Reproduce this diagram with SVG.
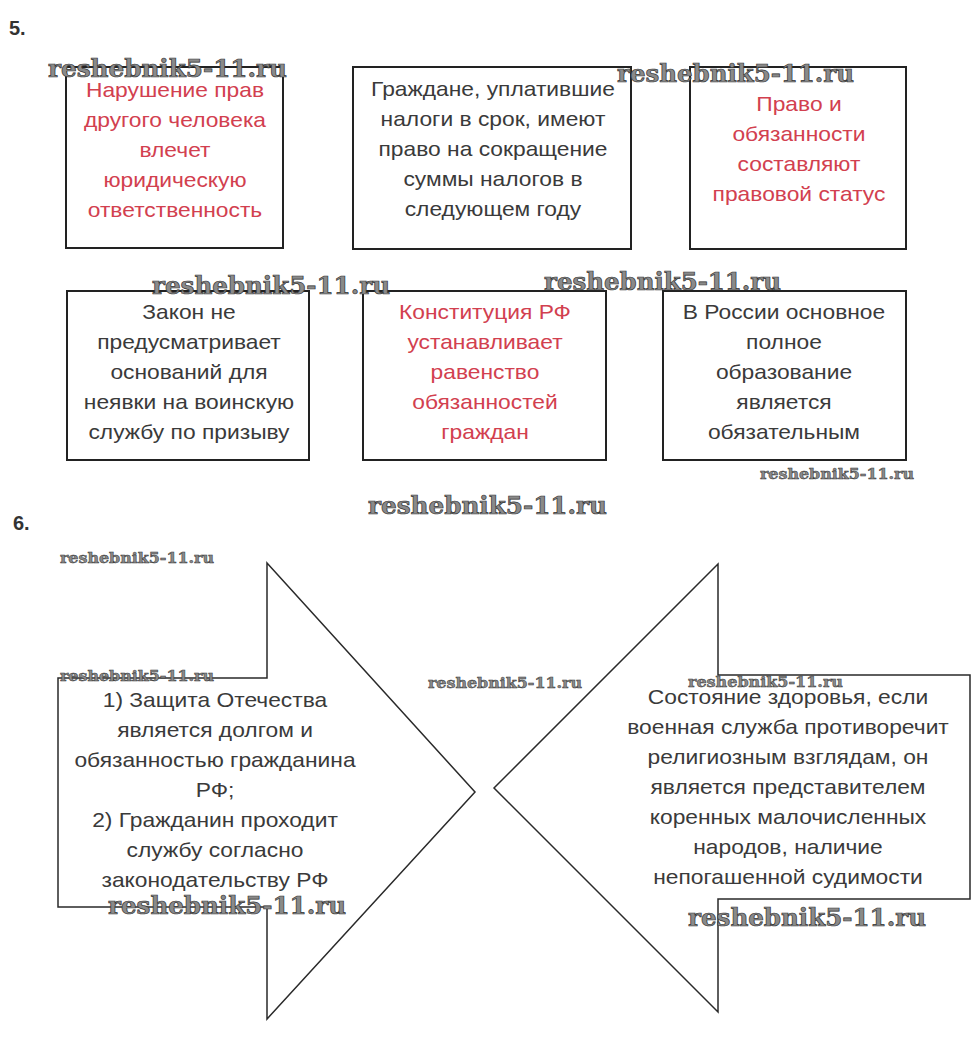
<svg xmlns="http://www.w3.org/2000/svg" width="980" height="1053" viewBox="0 0 980 1053">
<style>
.bg{fill:#ffffff}
.box{fill:#ffffff;stroke:#222222;stroke-width:2}
.arrow{fill:#ffffff;stroke:#2a2a2a;stroke-width:1.5;stroke-linejoin:miter}
.t{font-family:"Liberation Sans",Arial,sans-serif;font-size:20px;text-anchor:middle;fill:#3a3a3a}
.r{fill:#d2404f}
.num{font-family:"Liberation Sans",Arial,sans-serif;font-size:20px;font-weight:bold;fill:#333333}
.wm{font-family:"DejaVu Serif",serif;font-weight:bold;fill:#8a8a8a;stroke:#333333;stroke-width:0.7}
.wmL{font-size:24px}
.wmS{font-size:15.5px;stroke-width:0.5}
</style>
<rect class="bg" x="0" y="0" width="980" height="1053"/>
<text class="num" x="9" y="35">5.</text>
<text class="num" x="13" y="530">6.</text>

<g id="box1">
<rect class="box" x="66" y="67" width="217" height="181"/>
<g transform="matrix(1.14,0,0,1,-24.5,0)"><text class="t r" x="175"><tspan x="175" y="97">Нарушение прав</tspan><tspan x="175" y="127">другого человека</tspan><tspan x="175" y="157">влечет</tspan><tspan x="175" y="187">юридическую</tspan><tspan x="175" y="217">ответственность</tspan></text></g>
</g>
<g id="box2">
<rect class="box" x="353" y="67" width="278" height="182"/>
<g transform="matrix(1.14,0,0,1,-69.02,0)"><text class="t" x="493"><tspan x="493" y="96">Граждане, уплатившие</tspan><tspan x="493" y="126">налоги в срок, имеют</tspan><tspan x="493" y="156">право на сокращение</tspan><tspan x="493" y="186">суммы налогов в</tspan><tspan x="493" y="216">следующем году</tspan></text></g>
</g>
<g id="box3">
<rect class="box" x="690" y="67" width="216" height="182"/>
<g transform="matrix(1.14,0,0,1,-111.86,0)"><text class="t r" x="799"><tspan x="799" y="111">Право и</tspan><tspan x="799" y="141">обязанности</tspan><tspan x="799" y="171">составляют</tspan><tspan x="799" y="201">правовой статус</tspan></text></g>
</g>
<g id="box4">
<rect class="box" x="67" y="291" width="242" height="169"/>
<g transform="matrix(1.14,0,0,1,-26.46,0)"><text class="t" x="189"><tspan x="189" y="319">Закон не</tspan><tspan x="189" y="349">предусматривает</tspan><tspan x="189" y="379">оснований для</tspan><tspan x="189" y="409">неявки на воинскую</tspan><tspan x="189" y="439">службу по призыву</tspan></text></g>
</g>
<g id="box5">
<rect class="box" x="363" y="291" width="243" height="169"/>
<g transform="matrix(1.14,0,0,1,-67.9,0)"><text class="t r" x="485"><tspan x="485" y="319">Конституция РФ</tspan><tspan x="485" y="349">устанавливает</tspan><tspan x="485" y="379">равенство</tspan><tspan x="485" y="409">обязанностей</tspan><tspan x="485" y="439">граждан</tspan></text></g>
</g>
<g id="box6">
<rect class="box" x="663" y="291" width="243" height="169"/>
<g transform="matrix(1.14,0,0,1,-109.76,0)"><text class="t" x="784"><tspan x="784" y="319">В России основное</tspan><tspan x="784" y="349">полное</tspan><tspan x="784" y="379">образование</tspan><tspan x="784" y="409">является</tspan><tspan x="784" y="439">обязательным</tspan></text></g>
</g>

<g id="connectors"></g>

<g id="arrowLeft">
<polygon class="arrow" points="267,563 475,792 267,1019 267,907 58,907 58,678 267,678"/>
<g transform="matrix(1.14,0,0,1,-30.1,0)"><text class="t" x="215"><tspan x="215" y="707">1) Защита Отечества</tspan><tspan x="215" y="737">является долгом и</tspan><tspan x="215" y="767">обязанностью гражданина</tspan><tspan x="215" y="797">РФ;</tspan><tspan x="215" y="827">2) Гражданин проходит</tspan><tspan x="215" y="857">службу согласно</tspan><tspan x="215" y="887">законодательству РФ</tspan></text></g>
</g>
<g id="arrowRight">
<polygon class="arrow" points="718,564 718,675 970,675 970,899 718,899 718,1012 494,788"/>
<g transform="matrix(1.14,0,0,1,-110.32,0)"><text class="t" x="788"><tspan x="788" y="704">Состояние здоровья, если</tspan><tspan x="788" y="734">военная служба противоречит</tspan><tspan x="788" y="764">религиозным взглядам, он</tspan><tspan x="788" y="794">является представителем</tspan><tspan x="788" y="824">коренных малочисленных</tspan><tspan x="788" y="854">народов, наличие</tspan><tspan x="788" y="884">непогашенной судимости</tspan></text></g>
</g>

<g id="watermarks">
<text class="wm wmL" x="48" y="77" textLength="239" lengthAdjust="spacingAndGlyphs">reshebnik5-11.ru</text>
<text class="wm wmL" x="617" y="82" textLength="237" lengthAdjust="spacingAndGlyphs">reshebnik5-11.ru</text>
<text class="wm wmL" x="152" y="294" textLength="238" lengthAdjust="spacingAndGlyphs">reshebnik5-11.ru</text>
<text class="wm wmL" x="544" y="290" textLength="237" lengthAdjust="spacingAndGlyphs">reshebnik5-11.ru</text>
<text class="wm wmS" x="760" y="479" textLength="154" lengthAdjust="spacingAndGlyphs">reshebnik5-11.ru</text>
<text class="wm wmL" x="368" y="514" textLength="239" lengthAdjust="spacingAndGlyphs">reshebnik5-11.ru</text>
<text class="wm wmS" x="60" y="563" textLength="154" lengthAdjust="spacingAndGlyphs">reshebnik5-11.ru</text>
<text class="wm wmS" x="60" y="681" textLength="154" lengthAdjust="spacingAndGlyphs">reshebnik5-11.ru</text>
<text class="wm wmS" x="428" y="688" textLength="154" lengthAdjust="spacingAndGlyphs">reshebnik5-11.ru</text>
<text class="wm wmS" x="688" y="687" textLength="155" lengthAdjust="spacingAndGlyphs">reshebnik5-11.ru</text>
<text class="wm wmL" x="108" y="914" textLength="238" lengthAdjust="spacingAndGlyphs">reshebnik5-11.ru</text>
<text class="wm wmL" x="688" y="926" textLength="238" lengthAdjust="spacingAndGlyphs">reshebnik5-11.ru</text>
</g>
</svg>
